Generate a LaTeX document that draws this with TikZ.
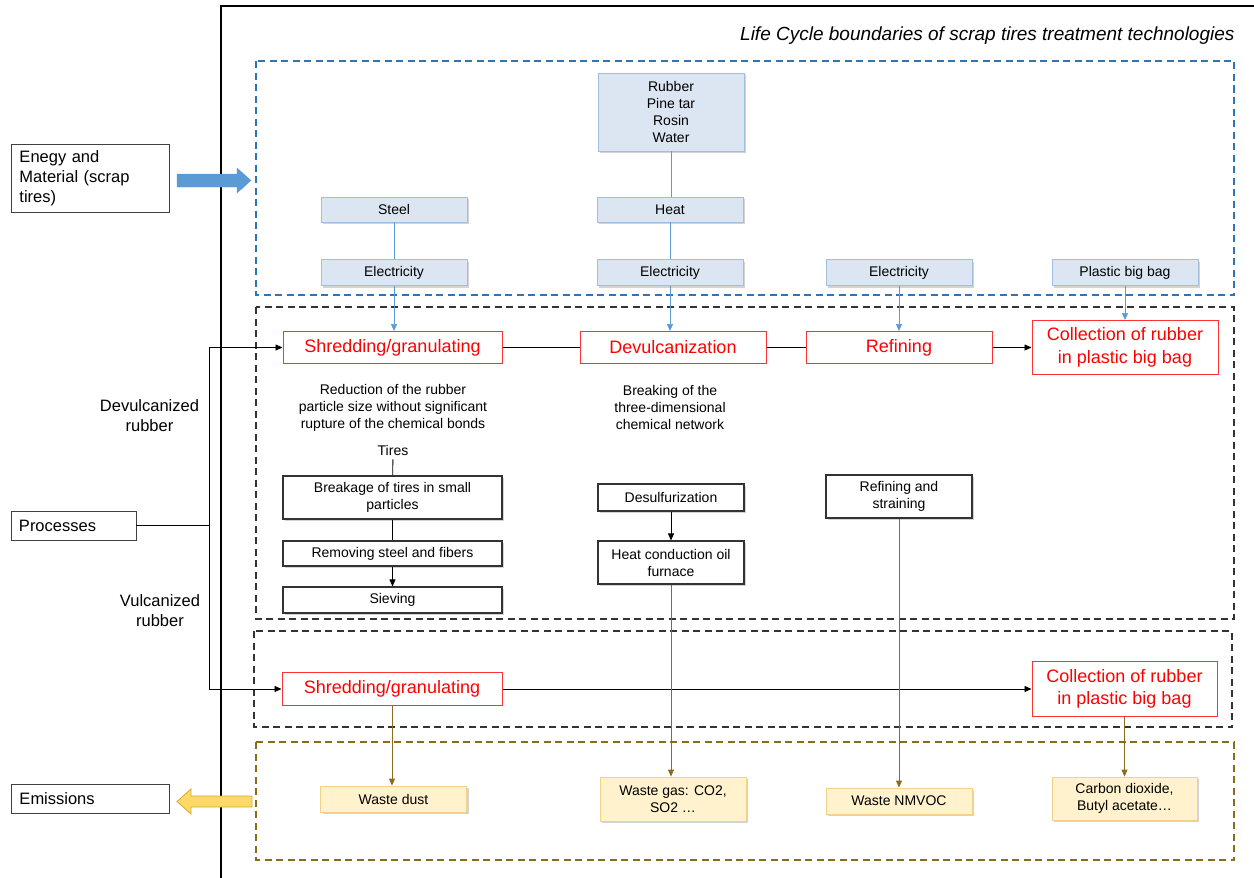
\documentclass[tikz,border=0pt]{standalone}
\usepackage{fontspec}
\setmainfont{Liberation Sans}
\usetikzlibrary{arrows.meta,shadows}

\definecolor{inblue}{HTML}{DCE6F2}
\definecolor{inborder}{HTML}{A3BEDD}
\definecolor{flowblue}{HTML}{5B9BD5}
\definecolor{dashblue}{HTML}{2E75B6}
\definecolor{procred}{HTML}{FF0000}
\definecolor{outfill}{HTML}{FFF2CC}
\definecolor{outborder}{HTML}{F2D28A}
\definecolor{olive}{HTML}{8A6D1C}
\definecolor{emitfill}{HTML}{FFD966}
\definecolor{emitborder}{HTML}{D6A92E}

\newcommand\boxfont{\fontsize{14}{17}\selectfont}
\newcommand\redfont{\fontsize{18}{22.5}\selectfont}
\newcommand\sidefont{\fontsize{16.5}{20}\selectfont}
\newcommand\headfont{\fontsize{19}{23}\selectfont\itshape}

\tikzset{
  shade box/.style={drop shadow={shadow xshift=2pt,shadow yshift=-2pt,opacity=.35}},
  inbox/.style={draw=inborder, fill=inblue, line width=0.8pt, shade box,
    minimum width=146pt, minimum height=26pt, inner sep=0pt, align=center, font=\boxfont},
  procbox/.style={draw=procred!80, fill=white, line width=1pt, text=procred,
    minimum height=32pt, inner sep=0pt, align=center, font=\redfont},
  stepbox/.style={draw=black!80, fill=white, line width=1.1pt, shade box,
    minimum width=219pt, minimum height=26pt, inner sep=0pt, align=center, font=\boxfont},
  outbox/.style={draw=outborder, fill=outfill, line width=0.8pt, shade box,
    minimum width=146pt, minimum height=26pt, inner sep=0pt, align=center, font=\boxfont},
  sidebox/.style={draw=black!75, fill=white, line width=0.8pt,
    inner sep=0pt, minimum width=#1, text width=#1-16pt, align=left, font=\sidefont},
  boundary/.style={line width=1.6pt, dash pattern=on 7pt off 4.5pt},
  blueflow/.style={draw=flowblue, line width=0.7pt},
  oliveflow/.style={draw=olive, line width=0.8pt},
  tip/.style={-{Triangle[length=7pt,width=6pt]}}
}

\begin{document}
\begin{tikzpicture}[x=1pt,y=-1pt]
  \useasboundingbox (0,0) rectangle (1254,878);

  % system frame
  \draw[line width=1.4pt] (221,878) -- (221,6) -- (1254,6);
  \node[anchor=east, font=\headfont] (title) at (1238,36)
    {Life Cycle boundaries of scrap tires treatment technologies};

  % boundaries
  \draw[boundary, dashblue] (256,61) rectangle (1234,295);
  \draw[boundary, black!80] (256,307) rectangle (1234,619);
  \draw[boundary, black!80] (254,631) rectangle (1232,727);
  \draw[boundary, olive] (256,742) rectangle (1234,860);

  % block arrows
  \filldraw[fill=flowblue, draw=flowblue] (177,174) -- (237,174) -- (237,168)
    -- (251,180.5) -- (237,193) -- (237,187) -- (177,187) -- cycle;
  \filldraw[fill=emitfill, draw=emitborder, line width=0.8pt] (252,796) -- (191,796)
    -- (191,789) -- (177,801.5) -- (191,814) -- (191,807) -- (252,807) -- cycle;

  % left side
  \node[sidebox=158pt, minimum height=68pt] (energy) at (90.5,178)
    {Enegy and\\Material (scrap\\tires)};
  \node[sidebox=125pt, minimum height=29pt] (processes) at (73.5,525.5) {Processes};
  \node[sidebox=158pt, minimum height=29pt] (emissions) at (90.5,799) {Emissions};
  \node[font=\sidefont, align=center] (devlabel) at (149.5,416) {Devulcanized\\rubber};
  \node[font=\sidefont, align=center] (vullabel) at (160,611) {Vulcanized\\rubber};
  \coordinate (fork) at (209.5,525.5);

  % inputs
  \node[inbox, minimum height=78pt] (rubber) at (671,112) {Rubber\\Pine tar\\Rosin\\Water};
  \node[inbox, minimum height=25pt] (steel) at (394,209.5) {Steel};
  \node[inbox, minimum height=25pt] (heat) at (670,209.5) {Heat};
  \node[inbox] (elec1) at (394,272.5) {Electricity};
  \node[inbox] (elec2) at (670,272.5) {Electricity};
  \node[inbox] (elec3) at (899,272.5) {Electricity};
  \node[inbox] (bag) at (1125,272.5) {Plastic big bag};

  % devulcanized rubber
  \node[procbox, minimum width=219pt] (shred) at (392.5,347.5) {Shredding/granulating};
  \node[procbox, minimum width=186pt] (devul) at (673,347.5) {Devulcanization};
  \node[procbox, minimum width=186pt] (refin) at (899,347.5) {Refining};
  \node[procbox, minimum width=186pt, minimum height=54pt] (coll) at (1125,347.5)
    {Collection of rubber\\in plastic big bag};
  \node[font=\boxfont, align=center] (shreddesc) at (393,407.5)
    {Reduction of the rubber\\particle size without significant\\rupture of the chemical bonds};
  \node[font=\boxfont, align=center] (devuldesc) at (670,407.5)
    {Breaking of the\\three-dimensional\\chemical network};
  \node[font=\boxfont] (tires) at (393,450.5) {Tires};
  \node[stepbox, minimum height=43pt] (breakage) at (392.5,497.5)
    {Breakage of tires in small\\particles};
  \node[stepbox, minimum height=25pt] (removing) at (392.5,553.5) {Removing steel and fibers};
  \node[stepbox] (sieving) at (392.5,600) {Sieving};
  \node[stepbox, minimum width=146pt, minimum height=27pt] (desulf) at (671,497.5)
    {Desulfurization};
  \node[stepbox, minimum width=146pt, minimum height=43pt] (furnace) at (671,562.5)
    {Heat conduction oil\\furnace};
  \node[stepbox, minimum width=146pt, minimum height=43pt] (straining) at (899,496.5)
    {Refining and\\straining};

  % vulcanized rubber
  \node[procbox, minimum width=220pt, minimum height=33pt] (shred2) at (392,689)
    {Shredding/granulating};
  \node[procbox, minimum width=185pt, minimum height=55pt] (coll2) at (1124.5,689)
    {Collection of rubber\\in plastic big bag};

  % emissions
  \node[outbox] (dust) at (393.5,799) {Waste dust};
  \node[outbox, minimum height=44pt] (gas) at (673,799) {Waste gas: CO2,\\SO2 \dots};
  \node[outbox] (nmvoc) at (899,801) {Waste NMVOC};
  \node[outbox, minimum width=145pt, minimum height=43pt] (co2) at (1124.5,798.5)
    {Carbon dioxide,\\Butyl acetate\dots};

  % input flows
  \begin{scope}[blueflow]
    \draw (rubber) -- (rubber.south |- heat.north);
    \draw (heat) -- (heat.south |- elec2.north);
    \draw (steel) -- (steel.south |- elec1.north);
    \draw[tip] (elec1.south) -- (elec1.south |- shred.north);
    \draw[tip] (elec2.south) -- (elec2.south |- devul.north);
    \draw[tip] (elec3.south) -- (elec3.south |- refin.north);
    \draw[tip] (bag.south) -- (bag.south |- coll.north);
  \end{scope}

  % process flows
  \begin{scope}[line width=0.8pt]
    \draw (processes) -- (fork);
    \draw[tip] (fork) |- (shred);
    \draw[tip] (fork) |- (shred2);
    \draw (shred) -- (devul);
    \draw (devul) -- (refin);
    \draw[tip] (refin) -- (coll);
    \draw[tip] (shred2) -- (coll2);
    \draw (tires) -- (breakage);
    \draw (breakage) -- (removing);
    \draw[tip] (removing) -- (sieving);
    \draw[tip] (desulf) -- (furnace);
  \end{scope}

  % emission flows
  \begin{scope}[oliveflow, tip]
    \draw (shred2.south) -- (shred2.south |- dust.north);
    \draw (furnace.south) -- (furnace.south |- gas.north);
    \draw (straining.south) -- (straining.south |- nmvoc.north);
    \draw (coll2.south) -- (coll2.south |- co2.north);
  \end{scope}
\end{tikzpicture}
\end{document}
